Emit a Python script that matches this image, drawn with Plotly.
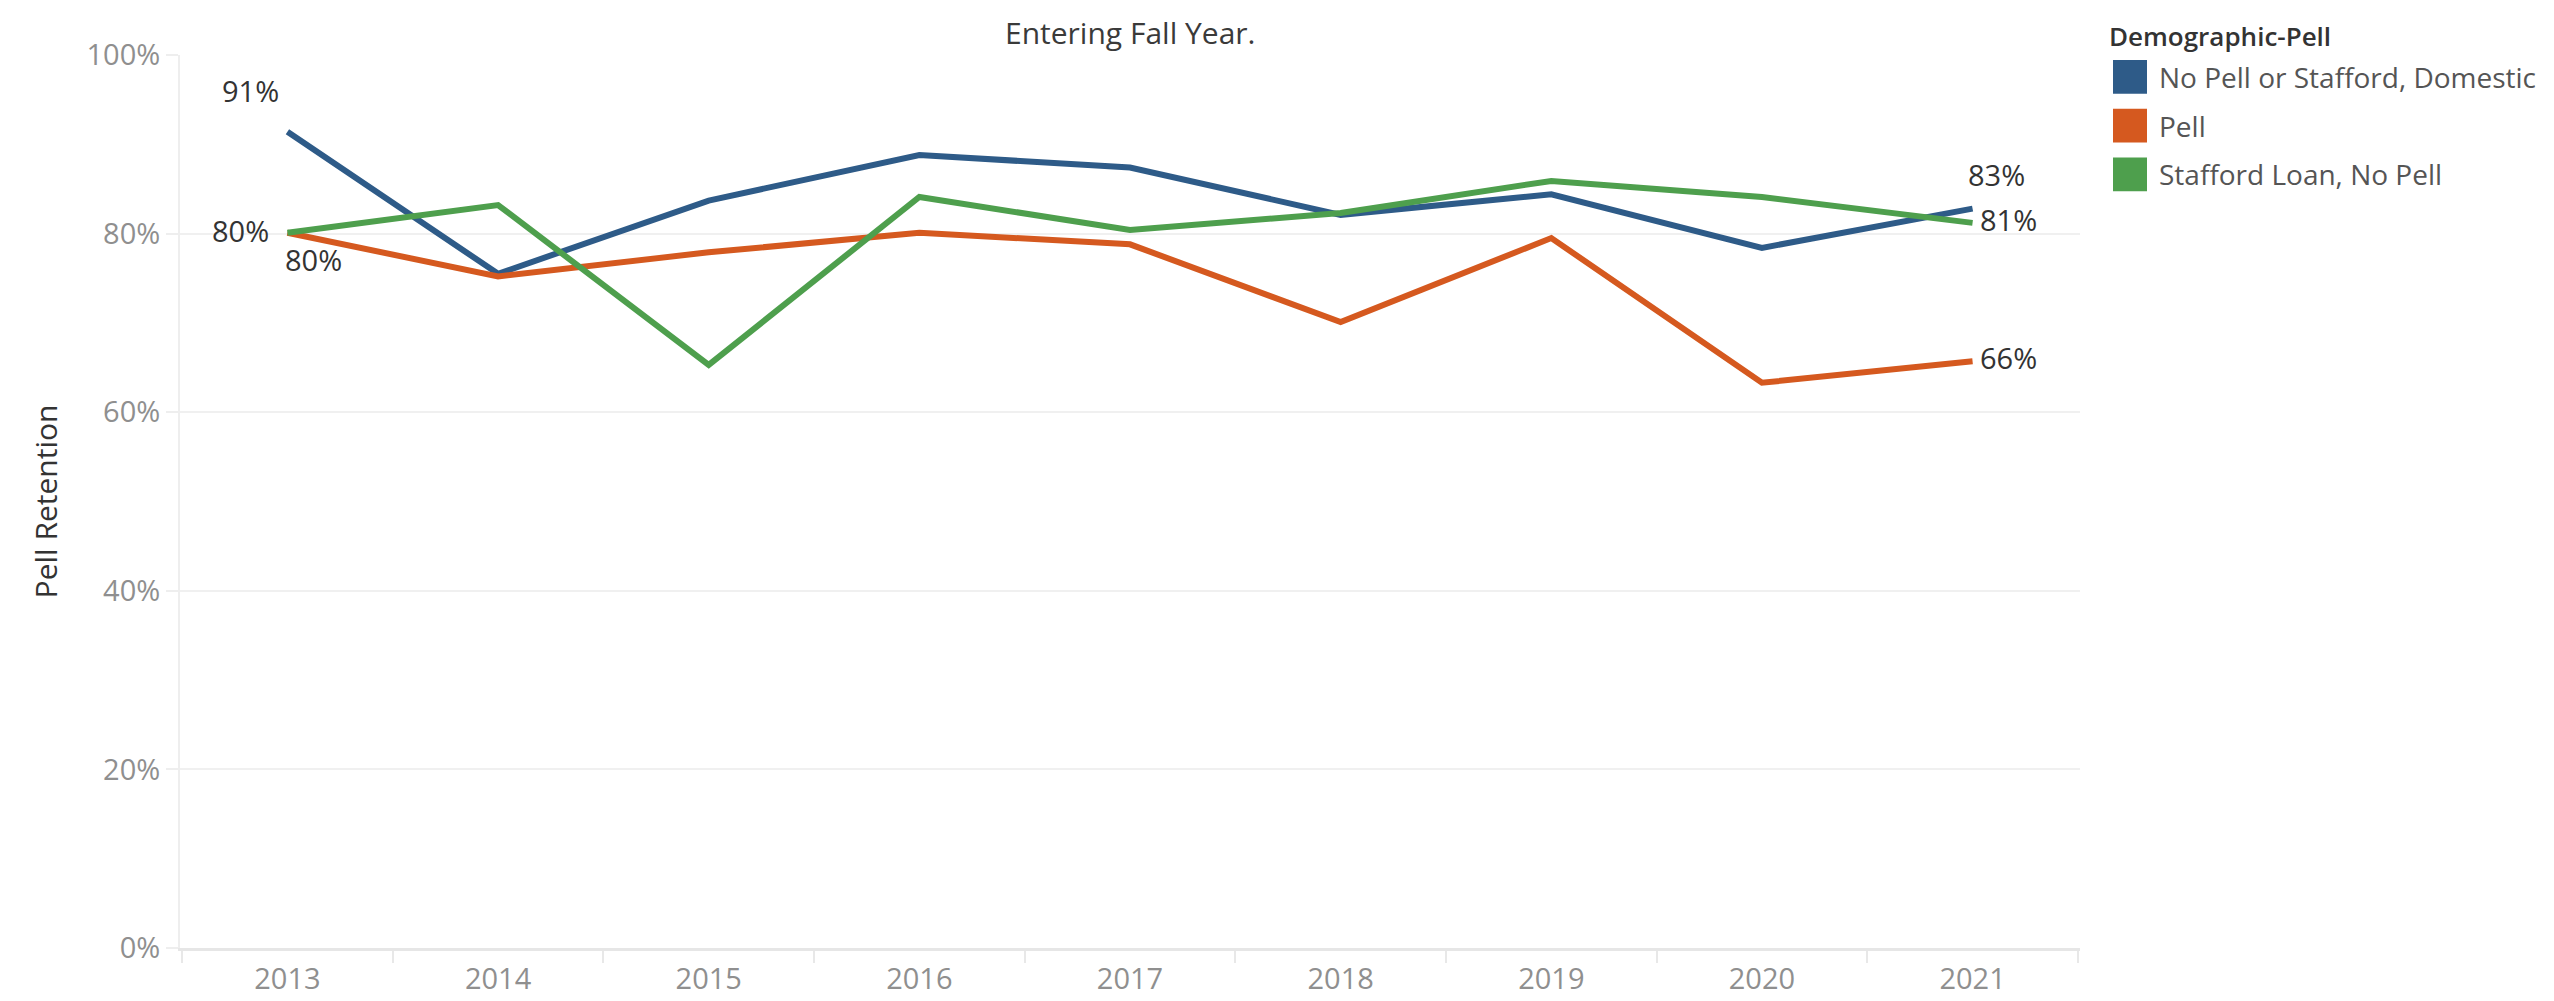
import plotly.graph_objects as go

years = ["2013", "2014", "2015", "2016", "2017", "2018", "2019", "2020", "2021"]
series_names = ["No Pell or Stafford, Domestic", "Pell", "Stafford Loan, No Pell"]
no_pell = [0.914, 0.755, 0.837, 0.888, 0.874, 0.821, 0.844, 0.784, 0.828]
pell = [0.801, 0.752, 0.779, 0.801, 0.788, 0.701, 0.795, 0.633, 0.657]
stafford = [0.801, 0.832, 0.653, 0.841, 0.804, 0.823, 0.859, 0.841, 0.812]
y_ticks = [0, 0.2, 0.4, 0.6, 0.8, 1.0]
y_tick_labels = ["0%", "20%", "40%", "60%", "80%", "100%"]

colors = ["#2E5B88", "#D5591F", "#4E9F4D"]

W, H = 2554, 1001
L, R, T, B = 172, 482, 47, 56
FONT = "Open Sans"
FS = 29

fig = go.Figure()
all_vals = [no_pell, pell, stafford]
for name, vals, col in zip(series_names, all_vals, colors):
    fig.add_trace(go.Scatter(
        x=years, y=vals, name=name, mode="lines",
        line=dict(color=col, width=6),
        showlegend=False,
    ))

# start / end value labels (anchor, xshift, yshift relative to the data point)
label_style = [
    [("right", -6, 41), ("left", -7, 34)],     # No Pell or Stafford
    [("left", -4, -27), ("left", 5, 4)],       # Pell
    [("right", -16, 2), ("left", 5, 3)],       # Stafford
]
for vals, styles in zip(all_vals, label_style):
    for idx, (anc, xs, ys) in zip((0, len(vals) - 1), styles):
        # category axis: annotation x is the category's serial index
        fig.add_annotation(
            x=idx, y=vals[idx], xref="x", yref="y",
            text=f"{round(vals[idx]*100):.0f}%", showarrow=False,
            xanchor=anc, yanchor="middle", xshift=xs, yshift=ys,
            font=dict(family=FONT, size=FS, color="#333333"),
        )

fig.update_layout(
    width=W, height=H,
    margin=dict(l=L, r=R, t=T, b=B),
    paper_bgcolor="white", plot_bgcolor="white",
    font=dict(family=FONT, color="#333333"),
    showlegend=False,
    xaxis=dict(
        type="category", range=[-0.51, len(years) - 0.49],
        tickson="boundaries", ticks="outside", ticklen=12, tickwidth=2, tickcolor="#e8e8e8",
        showgrid=False, showline=True, linecolor="#e6e6e6", linewidth=3,
        tickfont=dict(family=FONT, size=FS, color="#8f8f8f"),
        ticklabelstandoff=3,
        fixedrange=True,
    ),
    yaxis=dict(
        range=[0, 1.0], tickvals=y_ticks, ticktext=y_tick_labels,
        ticks="outside", ticklen=12, tickwidth=2, tickcolor="#eeeeee",
        showgrid=True, gridcolor="#f0f0f0", gridwidth=2,
        zeroline=False, showline=True, linecolor="#eeeeee", linewidth=2,
        tickfont=dict(family=FONT, size=FS, color="#8f8f8f"),
        title=dict(text="Pell Retention", font=dict(family=FONT, size=30, color="#333333"), standoff=20),
        fixedrange=True,
    ),
)

pw = W - L - R
ph = H - T - B


def px(xp):
    return (xp - L) / pw


def py(yp):
    return (H - B - yp) / ph


# chart title
fig.add_annotation(text="Entering Fall Year.", x=px(1122), y=py(24), xref="paper", yref="paper",
                   showarrow=False, xanchor="center", yanchor="middle",
                   font=dict(family=FONT, size=30, color="#3a3a3a", weight=500))

# manual legend (large square swatches as in the original)
fig.add_annotation(text="Demographic-Pell", x=px(2099), y=py(28), xref="paper", yref="paper",
                   showarrow=False, xanchor="left", yanchor="middle",
                   font=dict(family=FONT, size=26, color="#333333", weight=600))
for i, (name, col) in enumerate(zip(series_names, colors)):
    cy = 69 + i * 49
    fig.add_shape(type="rect", xref="paper", yref="paper",
                  x0=px(2105), x1=px(2139), y0=py(cy + 17), y1=py(cy - 17),
                  fillcolor=col, line=dict(width=0))
    fig.add_annotation(text=name, x=px(2149), y=py(cy), xref="paper", yref="paper",
                       showarrow=False, xanchor="left", yanchor="middle",
                       font=dict(family=FONT, size=28, color="#555555"))

fig.write_html("out.html")
